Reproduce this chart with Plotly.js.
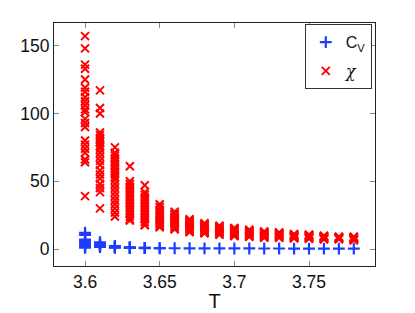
<!DOCTYPE html>
<html>
<head>
<meta charset="utf-8">
<script src="https://cdn.plot.ly/plotly-3.0.1.min.js"></script>
<style>html,body{margin:0;padding:0;background:#fff;}#chart{width:415px;height:313px;}</style>
</head>
<body>
<div id="chart"></div>
<script>
// Temperatures (one column of samples per temperature)
const temps = [3.60, 3.61, 3.62, 3.63, 3.64, 3.65, 3.66, 3.67, 3.68, 3.69, 3.70, 3.71, 3.72, 3.73, 3.74, 3.75, 3.76, 3.77, 3.78];

// Susceptibility chi samples per temperature
const chi360 = [157, 148, 136, 133, 125, 119, 116, 112, 109, 106, 103, 101, 96, 93, 90, 80, 77, 74, 71, 66, 64, 39];
const chi361 = [117, 104, 100, 86, 84, 82, 80, 78, 76, 74, 71, 68, 65, 62, 58, 55, 52, 48, 45, 42, 30];
const chi362 = [75, 71, 69, 67, 65, 63, 61, 59, 57, 55, 53, 51, 48, 45, 42, 39, 36, 33, 30, 27, 24];
const chi363 = [61, 50, 48, 46, 44, 42, 40, 38, 36, 34, 32, 30, 28, 26, 24, 22, 21];
const chi364 = [47, 42, 40, 38, 36, 34, 32, 30, 28, 26, 24, 22, 20, 18, 17.5];
const chi365 = [33, 31, 29, 27.5, 26, 24.5, 23, 21.5, 20, 19, 18, 17, 16];
const chi366 = [27.5, 26, 25, 24, 23, 22, 21, 20, 19, 18, 17, 16, 15, 14.5];
const chi367 = [22, 21, 20.3, 19.5, 18.8, 18, 17.3, 16.5, 15.8, 15, 14.3, 13.5, 12.8, 12.5];
const chi368 = [19, 18.3, 17.6, 17, 16.3, 15.6, 15, 14.3, 13.6, 13, 12.4, 11.8, 11.6];
const chi369 = [17.2, 16.6, 16, 15.4, 14.8, 14.2, 13.6, 13, 12.4, 11.8, 11.2, 10.6];
const chi370 = [15.5, 15, 14.5, 14, 13.4, 12.8, 12.2, 11.6, 11, 10.4, 9.8, 9.6];
const chi371 = [14.2, 13.7, 13.2, 12.7, 12.2, 11.7, 11.2, 10.7, 10.2, 9.7, 9.2, 9.1];
const chi372 = [13, 12.6, 12.2, 11.7, 11.2, 10.7, 10.2, 9.7, 9.2, 8.8, 8.3];
const chi373 = [12.3, 11.9, 11.5, 11.1, 10.7, 10.3, 9.9, 9.5, 9.1, 8.7, 8.3];
const chi374 = [11, 10.7, 10.3, 10, 9.6, 9.3, 8.9, 8.5, 8.2, 7.9];
const chi375 = [10.6, 10.3, 10, 9.7, 9.3, 9, 8.6, 8.3, 7.9, 7.6];
const chi376 = [9.8, 9.5, 9.2, 8.9, 8.6, 8.3, 8, 7.7, 7.4, 7.2];
const chi377 = [9.1, 8.9, 8.6, 8.3, 8.1, 7.8, 7.5, 7.2];
const chi378 = [9.1, 8.8, 8.5, 8.2, 7.9, 7.5, 7.1, 6.8, 6.4];

// Specific heat Cv samples per temperature
const cv360 = [12, 10.5, 7, 6, 4.5, 3, 2, 1.5, 1];
const cv361 = [5, 4.2, 3.5, 3, 2.5, 2, 1.5];
const cv362 = [2.2, 1.8, 1.5, 1.2, 1];
const cv363 = [1.3, 1.1, 0.9, 0.8];
const cv364 = [0.9, 0.8, 0.7];
const cv365 = [0.7, 0.6];
const cv366 = [0.6];
const cv367 = [0.55];
const cv368 = [0.5];
const cv369 = [0.5];
const cv370 = [0.45];
const cv371 = [0.45];
const cv372 = [0.4];
const cv373 = [0.4];
const cv374 = [0.35];
const cv375 = [0.35];
const cv376 = [0.3];
const cv377 = [0.3];
const cv378 = [0.3];

const xTickVals = [3.6, 3.65, 3.7, 3.75];
const xTickText = ['3.6', '3.65', '3.7', '3.75'];
const yTickVals = [0, 50, 100, 150];
const yTickText = ['0', '50', '100', '150'];

const chiCols = [chi360, chi361, chi362, chi363, chi364, chi365, chi366, chi367, chi368, chi369, chi370, chi371, chi372, chi373, chi374, chi375, chi376, chi377, chi378];
const cvCols = [cv360, cv361, cv362, cv363, cv364, cv365, cv366, cv367, cv368, cv369, cv370, cv371, cv372, cv373, cv374, cv375, cv376, cv377, cv378];

function flatten(cols) {
  const xs = [], ys = [];
  cols.forEach((col, i) => col.forEach(v => { xs.push(temps[i]); ys.push(v); }));
  return {xs, ys};
}
const cvF = flatten(cvCols);
const chiF = flatten(chiCols);

const fontFam = '"Liberation Sans", Arial, Helvetica, sans-serif';

const traces = [
  {
    x: cvF.xs, y: cvF.ys, type: 'scatter', mode: 'markers', name: 'C<sub>V</sub>',
    legendgroup: 'cv',
    marker: {symbol: 'cross-thin-open', size: 8.5, color: 'rgb(30,60,255)', line: {color: 'rgb(30,60,255)', width: 2.2}}
  },
  {
    x: chiF.xs, y: chiF.ys, type: 'scatter', mode: 'markers',
    name: '<span style="font-family:\'DejaVu Serif\';font-style:italic">χ</span>',
    legendgroup: 'chi',
    marker: {symbol: 'x-thin-open', size: 8, color: 'rgb(255,0,0)', line: {color: 'rgb(255,0,0)', width: 2}}
  }
];

const axisCommon = {
  showline: true, linecolor: '#222', linewidth: 1, mirror: 'ticks',
  ticks: 'inside', ticklen: 5, tickcolor: '#888', tickwidth: 1,
  showgrid: false, zeroline: false,
  tickfont: {family: fontFam, size: 17.5, color: '#111'}
};

const layout = {
  width: 415, height: 313,
  margin: {l: 54, r: 40, t: 23, b: 47},
  paper_bgcolor: '#fff', plot_bgcolor: '#fff',
  showlegend: true,
  xaxis: Object.assign({}, axisCommon, {
    range: [3.5792, 3.7942], tickmode: 'array', tickvals: xTickVals, ticktext: xTickText,
    title: {text: 'T', font: {family: fontFam, size: 20, color: '#111'}, standoff: 2}
  }),
  yaxis: Object.assign({}, axisCommon, {
    range: [-12.5, 166.7], tickmode: 'array', tickvals: yTickVals, ticktext: yTickText
  }),
  legend: {
    x: 0.99, y: 0.995, xanchor: 'right', yanchor: 'top',
    bgcolor: '#fff', bordercolor: '#333', borderwidth: 1,
    font: {family: fontFam, size: 16, color: '#111'},
    itemwidth: 30, traceorder: 'grouped', tracegroupgap: 5
  }
};

Plotly.newPlot('chart', traces, layout, {displayModeBar: false, staticPlot: true});
</script>
</body>
</html>
